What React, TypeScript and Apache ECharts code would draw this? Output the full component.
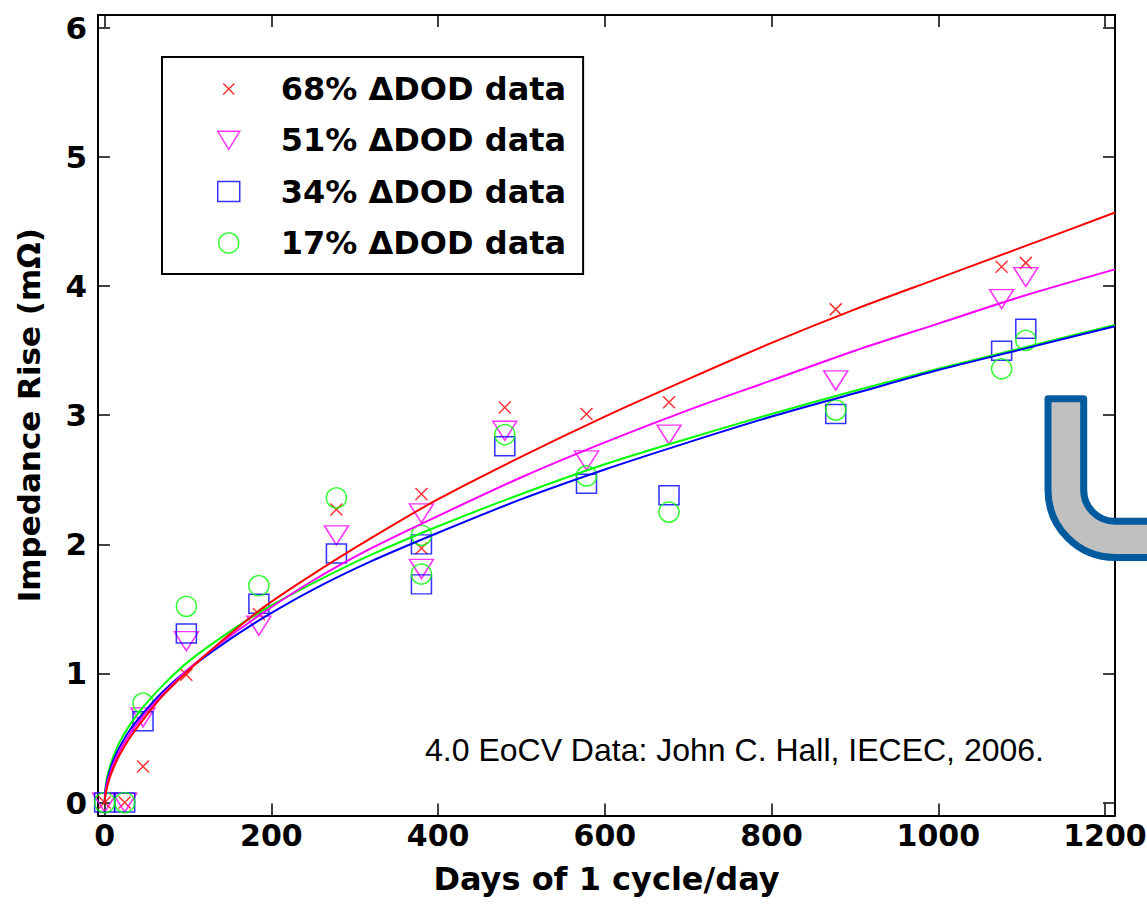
import React, { useEffect, useRef } from 'react';
import * as echarts from 'echarts';

// ---------- data ----------
const xTickValues = [0, 200, 400, 600, 800, 1000, 1200];
const yTickValues = [0, 1, 2, 3, 4, 5, 6];

const legendNames = ['68% ΔDOD data', '51% ΔDOD data', '34% ΔDOD data', '17% ΔDOD data'];
const seriesColors = ['#ff0000', '#ff00ff', '#0000ff', '#00ff00'];

const measurementDays = [0, 24, 46, 98, 185, 278, 380, 380, 480, 578, 677, 877, 1076, 1105];
const rise68 = [0, 0, 0.28, 0.99, 1.46, 2.27, 2.39, 1.97, 3.06, 3.01, 3.10, 3.82, 4.15, 4.18];
const rise51 = [0, 0, 0.66, 1.25, 1.37, 2.07, 2.24, 1.81, 2.88, 2.65, 2.85, 3.27, 3.90, 4.07];
const rise34 = [0, 0, 0.63, 1.31, 1.54, 1.93, 2.00, 1.69, 2.76, 2.47, 2.38, 3.01, 3.50, 3.67];
const rise17 = [0, 0, 0.77, 1.52, 1.68, 2.36, 2.07, 1.77, 2.85, 2.53, 2.25, 3.04, 3.36, 3.58];

// fitted curves
const fitDays = [0, 1, 3, 6, 10, 18, 30, 46, 70, 100, 140, 190, 250, 320, 400, 500, 600, 700, 800, 900, 1000, 1100, 1212];
const fit68 = [0, 0.06, 0.12, 0.19, 0.26, 0.37, 0.50, 0.64, 0.83, 1.02, 1.25, 1.51, 1.77, 2.05, 2.35, 2.68, 2.99, 3.28, 3.56, 3.82, 4.06, 4.30, 4.57];
const fit51 = [0, 0.08, 0.15, 0.21, 0.29, 0.40, 0.53, 0.67, 0.84, 1.03, 1.24, 1.47, 1.72, 1.97, 2.22, 2.52, 2.79, 3.04, 3.27, 3.50, 3.71, 3.92, 4.13];
const fit34 = [0, 0.10, 0.17, 0.24, 0.32, 0.43, 0.56, 0.69, 0.86, 1.03, 1.22, 1.43, 1.65, 1.87, 2.09, 2.35, 2.58, 2.79, 2.99, 3.17, 3.35, 3.51, 3.69];
const fit17 = [0, 0.11, 0.20, 0.27, 0.35, 0.47, 0.60, 0.74, 0.91, 1.09, 1.28, 1.49, 1.70, 1.92, 2.14, 2.39, 2.62, 2.82, 3.01, 3.19, 3.36, 3.52, 3.70];

const xAxisTitle = 'Days of 1 cycle/day';
const yAxisTitle = 'Impedance Rise (mΩ)';
const annotationText = '4.0 EoCV Data: John C. Hall, IECEC, 2006.';

// ---------- shapes ----------
const U_PATH =
  'M1048,398.7 L1083.7,398.7 L1083.7,490 C1083.7,507.3 1097.7,521.3 1115,521.3 L1170,521.3 L1170,557.5 L1115,557.5 C1078,557.5 1048,527.5 1048,490 Z';
echarts.graphic.registerShape('uBend', echarts.graphic.extendPath(U_PATH, {}));

const X_SYMBOL = 'path://M0,0L12,12M12,0L0,12';
const TRI_SYMBOL = 'path://M0,0L24,0L12,19Z';
const X_ICON = 'path://M0,0M22,20M5.5,4.5L16.5,15.5M16.5,4.5L5.5,15.5';
const TRI_ICON = 'path://M0,0L22,0L11,18Z';

const FONT = 'DejaVu Sans';

const zip = (xs: number[], ys: number[]) => xs.map((x, i) => [x, ys[i]]);

export default function App() {
  const ref = useRef<HTMLDivElement>(null);

  useEffect(() => {
    if (!ref.current) return;
    const chart = echarts.init(ref.current, undefined, { renderer: 'svg' });

    const scatterDefs = [
      { name: legendNames[0], data: zip(measurementDays, rise68), symbol: X_SYMBOL, size: 12, color: seriesColors[0] },
      { name: legendNames[1], data: zip(measurementDays, rise51), symbol: TRI_SYMBOL, size: [24, 19], color: seriesColors[1] },
      { name: legendNames[2], data: zip(measurementDays, rise34), symbol: 'rect', size: [20, 19], color: seriesColors[2] },
      { name: legendNames[3], data: zip(measurementDays, rise17), symbol: 'circle', size: 20, color: seriesColors[3] },
    ];

    const fitDefs = [
      { name: 'fit17', data: zip(fitDays, fit17), color: seriesColors[3] },
      { name: 'fit34', data: zip(fitDays, fit34), color: seriesColors[2] },
      { name: 'fit51', data: zip(fitDays, fit51), color: seriesColors[1] },
      { name: 'fit68', data: zip(fitDays, fit68), color: seriesColors[0] },
    ];

    const legendIcons = [X_ICON, TRI_ICON, 'rect', 'circle'];

    const axisLineStyle = { color: '#000', width: 2 };
    const tickStyle = { color: '#000', width: 1.5 };
    const labelStyle = { color: '#000', fontFamily: FONT, fontWeight: 'bold' as const, fontSize: 30 };
    const plain = (v: number) => String(v);

    chart.setOption({
      animation: false,
      backgroundColor: '#fff',
      grid: { left: 98, top: 15, width: 1017, height: 800.5, outerBoundsMode: 'none', containLabel: false },
      legend: {
        orient: 'vertical',
        left: 162,
        top: 57,
        padding: [16, 17, 15, 55],
        itemWidth: 22,
        itemHeight: 20,
        itemGap: 19.3,
        borderColor: '#000',
        borderWidth: 2,
        backgroundColor: '#fff',
        selectedMode: false,
        textStyle: { color: '#000', fontFamily: FONT, fontWeight: 'bold', fontSize: 32, padding: [0, 0, 0, 36] },
        data: legendNames.map((n, i) => ({
          name: n,
          icon: legendIcons[i],
          itemStyle: { color: 'transparent', borderColor: seriesColors[i], borderWidth: 1.5 },
        })),
      },
      xAxis: [
        {
          type: 'value',
          min: -8,
          max: 1212,
          position: 'bottom',
          axisLine: { show: true, onZero: false, lineStyle: axisLineStyle },
          axisTick: { show: true, inside: true, length: 12, customValues: xTickValues, lineStyle: tickStyle },
          axisLabel: { show: true, customValues: xTickValues, margin: 5, formatter: plain, ...labelStyle },
          splitLine: { show: false },
          name: xAxisTitle,
          nameLocation: 'middle',
          nameGap: 47,
          nameTextStyle: { ...labelStyle, fontSize: 32 },
        },
        {
          type: 'value',
          min: -8,
          max: 1212,
          position: 'top',
          axisLine: { show: true, onZero: false, lineStyle: axisLineStyle },
          axisTick: { show: true, inside: true, length: 12, customValues: xTickValues, lineStyle: tickStyle },
          axisLabel: { show: false },
          splitLine: { show: false },
        },
      ],
      yAxis: [
        {
          type: 'value',
          min: -0.1,
          max: 6.1,
          position: 'left',
          axisLine: { show: true, onZero: false, lineStyle: axisLineStyle },
          axisTick: { show: true, inside: true, length: 12, customValues: yTickValues, lineStyle: tickStyle },
          axisLabel: { show: true, customValues: yTickValues, margin: 11, formatter: plain, ...labelStyle, fontSize: 31 },
          splitLine: { show: false },
          name: yAxisTitle,
          nameLocation: 'middle',
          nameGap: 54,
          nameTextStyle: { ...labelStyle, fontSize: 31 },
        },
        {
          type: 'value',
          min: -0.1,
          max: 6.1,
          position: 'right',
          axisLine: { show: true, onZero: false, lineStyle: axisLineStyle },
          axisTick: { show: true, inside: true, length: 12, customValues: yTickValues, lineStyle: tickStyle },
          axisLabel: { show: false },
          splitLine: { show: false },
        },
      ],
      series: [
        ...scatterDefs.map((s) => ({
          type: 'scatter',
          name: s.name,
          data: s.data,
          symbol: s.symbol,
          symbolSize: s.size,
          itemStyle: { color: 'transparent', borderColor: s.color, borderWidth: 1.5 },
          silent: true,
          z: 2,
        })),
        ...fitDefs.map((f) => ({
          type: 'line',
          name: f.name,
          data: f.data,
          showSymbol: false,
          symbol: 'none',
          smooth: 0.3,
          lineStyle: { color: f.color, width: 2 },
          silent: true,
          z: 3,
        })),
      ],
      graphic: [
        {
          type: 'text',
          x: 425,
          y: 750,
          z: 50,
          style: {
            text: annotationText,
            fontFamily: 'Liberation Sans',
            fontSize: 32,
            fill: '#000',
            verticalAlign: 'middle',
            align: 'left',
          },
        },
        {
          type: 'uBend',
          x: 0,
          y: 0,
          z: 100,
          style: { fill: '#c0c0c0', stroke: '#005a9e', lineWidth: 7, lineJoin: 'round' },
        },
      ],
    });

    return () => chart.dispose();
  }, []);

  return (
    <div
      ref={ref}
      style={{ position: 'fixed', left: 0, top: 0, width: 1147, height: 909, background: '#fff' }}
    />
  );
}
